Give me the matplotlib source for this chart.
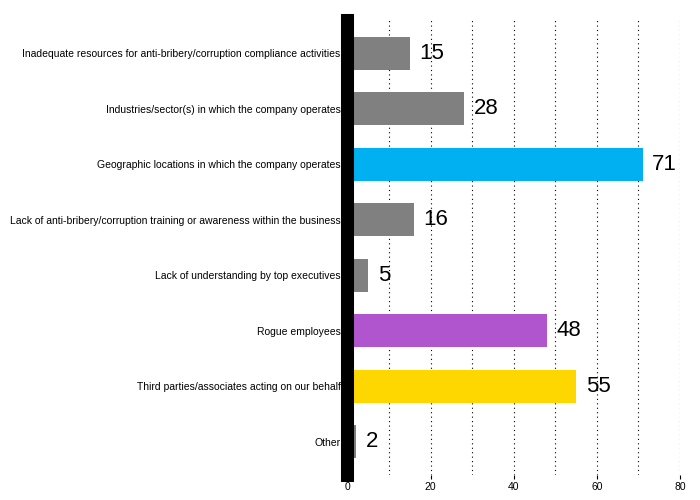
import numpy as np
import matplotlib.pyplot as plt

plt.rcParams['font.family'] = ['Liberation Sans', 'DejaVu Sans']

# data
categories = [
    "Inadequate resources for anti-bribery/corruption compliance activities",
    "Industries/sector(s) in which the company operates",
    "Geographic locations in which the company operates",
    "Lack of anti-bribery/corruption training or awareness within the business",
    "Lack of understanding by top executives",
    "Rogue employees",
    "Third parties/associates acting on our behalf",
    "Other",
]
values = [15, 28, 71, 16, 5, 48, 55, 2]
colors = ["#808080", "#808080", "#00B0F0", "#808080", "#808080",
          "#B155CE", "#FFD700", "#808080"]
xticks = [0, 20, 40, 60, 80]

fig = plt.figure(figsize=(7, 5), dpi=100)
ax = fig.add_axes([0.4964, 0.05, 0.4750, 0.91])

y = np.arange(len(categories))
ax.barh(y, values, height=0.6, color=colors, zorder=1)

for yi, v in zip(y, values):
    ax.annotate(str(v), (v, yi), xytext=(7, 0), textcoords="offset points",
                va="center", ha="left", fontsize=16)

ax.set_ylim(len(categories) - 0.4, -0.6)
ax.set_xlim(0, 80)
ax.set_yticks(y)
ax.set_yticklabels(categories, fontsize=7.5)
ax.set_xticks(xticks)
ax.set_xticklabels([str(t) for t in xticks], fontsize=7.5)
ax.tick_params(axis="y", length=0, pad=5)
ax.tick_params(axis="x", length=3, pad=2)

ax.set_xticks(np.arange(10, 81, 10), minor=True)
ax.tick_params(axis="x", which="minor", length=0)
ax.grid(axis="x", which="both", linestyle=(0, (1, 3)), color="black",
        linewidth=0.8, zorder=0)
ax.set_axisbelow(True)

for s in ["top", "right", "bottom"]:
    ax.spines[s].set_visible(False)
ax.spines["left"].set_linewidth(9.4)
ax.spines["left"].set_color("black")
ax.spines["left"].set_zorder(3)

fig.savefig("out.png", dpi=100)
